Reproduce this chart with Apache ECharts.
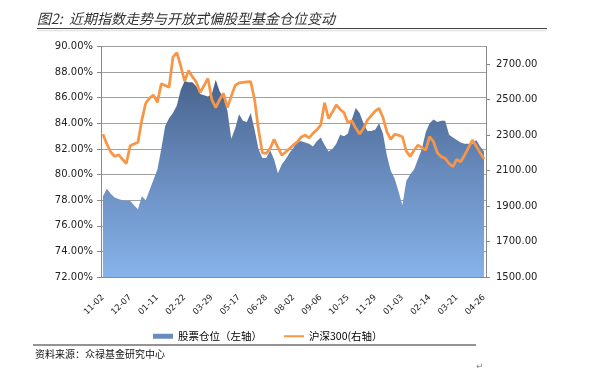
<!DOCTYPE html>
<html><head><meta charset="utf-8">
<script src="https://cdn.jsdelivr.net/npm/echarts@6/dist/echarts.min.js"></script>
<style>html,body{margin:0;padding:0;background:#fff}#c{width:600px;height:388px}</style>
</head><body><div id="c"></div>
<script>
const tickLabels = ['11-02','12-07','01-11','02-22','03-29','05-17','06-28','08-02','09-06','10-25','11-29','01-03','02-14','03-21','04-26'];
const position = [78.3,78.9,78.5,78.2,78.1,78.0,77.95,77.95,77.6,77.3,
 78.3,78.0,78.8,79.6,80.4,82.0,83.8,84.4,84.8,85.4,
 86.6,87.3,87.2,87.2,86.9,86.3,86.2,86.1,86.3,87.4,
 86.5,86.0,85.0,82.8,83.6,84.7,84.2,84.1,84.8,83.5,
 82.0,81.3,81.3,81.9,81.2,80.1,80.8,81.2,81.7,82.1,
 82.6,82.6,82.5,82.4,82.2,82.6,82.9,82.3,81.8,82.0,
 82.4,83.1,83.0,83.2,84.3,85.2,84.8,84.0,83.4,83.4,
 83.5,84.0,83.2,81.5,80.3,79.7,78.7,77.6,79.5,80.0,
 80.4,81.2,82.0,83.3,84.0,84.3,84.1,84.2,84.2,83.1,
 82.9,82.7,82.5,82.4,82.4,82.4,82.7,82.2,81.8];
const hs300 = [2305,2250,2205,2180,2190,2165,2140,2240,2250,2260,
 2385,2480,2510,2525,2485,2590,2580,2570,2740,2766,
 2690,2605,2664,2630,2600,2540,2580,2620,2500,2455,
 2500,2536,2455,2520,2580,2595,2598,2600,2602,2500,
 2330,2200,2197,2225,2276,2230,2187,2205,2225,2245,
 2262,2290,2300,2285,2310,2330,2357,2483,2394,2430,
 2470,2445,2427,2370,2381,2340,2306,2338,2385,2410,
 2436,2451,2400,2320,2276,2304,2300,2291,2210,2180,
 2215,2244,2230,2216,2291,2263,2200,2178,2169,2140,
 2122,2163,2150,2187,2230,2272,2238,2200,2165];
const rightTicks = [1500,1700,1900,2100,2300,2500,2700];
const categories = position.map((_, i) => (i % 7 === 0 ? tickLabels[i / 7] : ''));

const chart = echarts.init(document.getElementById('c'));
const numFont = 'DejaVu Sans';
const cjk = '"Noto Sans CJK SC"';
chart.setOption({
  animation: false,
  grid: {left: 101, right: 114, top: 46.5, bottom: 111},
  legend: {
    left: 148, top: 326, itemWidth: 20, itemHeight: 5, itemGap: 22,
    textStyle: {fontFamily: cjk, fontSize: 10.5, color: '#000'},
    data: [
      {name: '股票仓位（左轴）', icon: 'rect', itemStyle: {color: '#6a8cbd'}},
      {name: '沪深300(右轴）', icon: 'path://M0,0 L20,0 L20,2 L0,2 Z', itemStyle: {color: '#f79646'}}
    ]
  },
  xAxis: {
    type: 'category', data: categories, boundaryGap: true,
    axisLine: {lineStyle: {color: '#8a8a8a'}},
    axisTick: {interval: 0, length: 3, lineStyle: {color: '#8a8a8a'}},
    axisLabel: {interval: 6, rotate: 45, margin: 19, fontFamily: numFont, fontSize: 8.5, color: '#222'}
  },
  yAxis: [{
    type: 'value', min: 72, max: 90, interval: 2,
    axisLine: {show: true, lineStyle: {color: '#8a8a8a'}},
    axisTick: {show: true, length: 4, lineStyle: {color: '#8a8a8a'}},
    splitLine: {lineStyle: {color: '#a0a0a0', width: 1}},
    axisLabel: {formatter: v => v.toFixed(2) + '%', fontFamily: numFont, fontSize: 10, color: '#222', margin: 8}
  }, {
    type: 'value', min: 1500, max: 2800, position: 'right',
    axisLine: {show: true, lineStyle: {color: '#8a8a8a'}},
    axisTick: {show: true, length: 4, customValues: rightTicks, lineStyle: {color: '#8a8a8a'}},
    splitLine: {show: false},
    axisLabel: {customValues: rightTicks, formatter: v => v.toFixed(2), fontFamily: numFont, fontSize: 10, color: '#222', margin: 10}
  }],
  series: [{
    name: '股票仓位（左轴）', type: 'line', data: position, yAxisIndex: 0,
    symbol: 'none', lineStyle: {width: 0, opacity: 0},
    itemStyle: {color: '#6a8cbd'},
    areaStyle: {opacity: 1, color: new echarts.graphic.LinearGradient(0, 0, 0, 1, [
      {offset: 0, color: '#48648d'}, {offset: 0.5, color: '#6a8dc0'}, {offset: 1, color: '#86b3ea'}])}
  }, {
    name: '沪深300(右轴）', type: 'line', data: hs300, yAxisIndex: 1,
    symbol: 'none', lineStyle: {width: 2.75, color: '#f79646'}, itemStyle: {color: '#f79646'}, z: 3
  }],
  graphic: [
    {type: 'text', left: 37, top: 12, style: {text: '图2:  近期指数走势与开放式偏股型基金仓位变动', font: 'italic 14px "Noto Sans CJK SC"', fill: '#333'}},
    {type: 'line', shape: {x1: 37, y1: 28.5, x2: 547, y2: 28.5}, style: {stroke: '#444', lineWidth: 1}},
    {type: 'line', shape: {x1: 37, y1: 30.5, x2: 547, y2: 30.5}, style: {stroke: '#e4e4e4', lineWidth: 1.5}},
    {type: 'line', shape: {x1: 33, y1: 345, x2: 476, y2: 345}, style: {stroke: '#707070', lineWidth: 1.5}},
    {type: 'text', left: 35, top: 349, style: {text: '资料来源：众禄基金研究中心', font: '10px "Noto Sans CJK SC"', fill: '#111'}},
    {type: 'text', left: 476, top: 362, style: {text: '↵', font: '9px "DejaVu Sans"', fill: '#888'}}
  ]
});
</script></body></html>
